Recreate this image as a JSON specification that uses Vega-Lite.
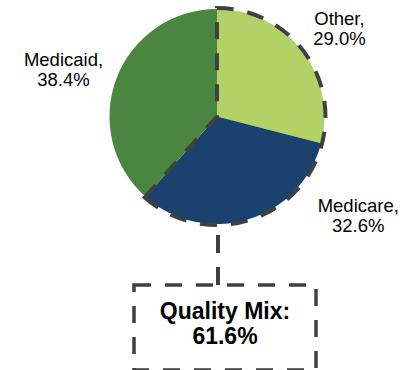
{
  "$schema": "https://vega.github.io/schema/vega-lite/v6.json",
  "padding": {"left": 19, "top": 0, "right": 0, "bottom": 0},
  "background": "white",
  "config": {"view": {"stroke": null}, "font": "Liberation Sans"},
  "spacing": 0,
  "bounds": "flush",
  "vconcat": [
    {
      "width": 396,
      "height": 229,
      "data": {"values": [
        {"payer": "Other", "share": 0.290, "label": "Other,\n29.0%"},
        {"payer": "Medicare", "share": 0.326, "label": "Medicare,\n32.6%"},
        {"payer": "Medicaid", "share": 0.384, "label": "Medicaid,\n38.4%"}
      ]},
      "layer": [
        {
          "mark": {"type": "arc", "radius": 107.5},
          "encoding": {
            "theta": {"field": "share", "type": "quantitative", "stack": true, "scale": {"domain": [0, 1]}},
            "order": {"field": "payer", "sort": "descending"},
            "color": {"field": "payer", "type": "nominal", "legend": null,
              "scale": {"domain": ["Other", "Medicare", "Medicaid"], "range": ["#b2d166", "#1b416f", "#4a863f"]}}
          }
        },
        {
          "data": {"values": [{"group": "Quality Mix", "share": 0.616}]},
          "mark": {"type": "arc", "radius": 108.5, "filled": false, "fill": null, "stroke": "#404040", "strokeWidth": 4, "strokeDash": [17, 14]},
          "encoding": {
            "theta": {"field": "share", "type": "quantitative", "stack": true}
          }
        },
        {
          "mark": {"type": "text", "radius": 160, "dx": -4, "dy": 0.5, "fontSize": 18.5, "lineBreak": "\n", "lineHeight": 20, "align": "center", "baseline": "middle", "color": "#000000"},
          "encoding": {
            "theta": {"field": "share", "type": "quantitative", "stack": true},
            "order": {"field": "payer", "sort": "descending"},
            "text": {"condition": {"test": "datum.payer != 'Medicare'", "field": "label", "type": "nominal"}, "value": ""}
          }
        },
        {
          "mark": {"type": "text", "radius": 104, "dx": 111, "dy": -9.5, "fontSize": 18.5, "lineBreak": "\n", "lineHeight": 20, "align": "center", "baseline": "middle", "color": "#000000"},
          "encoding": {
            "theta": {"field": "share", "type": "quantitative", "stack": true},
            "order": {"field": "payer", "sort": "descending"},
            "text": {"condition": {"test": "datum.payer == 'Medicare'", "field": "label", "type": "nominal"}, "value": ""}
          }
        }
      ]
    },
    {
      "width": 398,
      "height": 54,
      "data": {"values": [{"group": "Quality Mix"}]},
      "mark": {"type": "rule", "stroke": "#404040", "strokeWidth": 4, "strokeDash": [18, 14], "strokeDashOffset": 28},
      "encoding": {
        "x": {"field": "group", "type": "nominal", "axis": null}
      }
    },
    {
      "spacing": 0,
      "bounds": "flush",
      "hconcat": [
        {
          "width": 115,
          "height": 85,
          "data": {"values": [{}]},
          "mark": {"type": "text"},
          "encoding": {}
        },
        {
          "width": 182,
          "height": 85,
          "view": {"stroke": "#404040", "strokeWidth": 3.5, "strokeDash": [17, 14]},
          "data": {"values": [{"group": "Quality Mix", "text": "Quality Mix:\n61.6%"}]},
          "mark": {"type": "text", "fontSize": 23, "fontWeight": "bold", "lineBreak": "\n", "lineHeight": 25, "dy": -15.5, "color": "#000000"},
          "encoding": {
            "text": {"field": "text", "type": "nominal"}
          }
        }
      ]
    }
  ]
}
